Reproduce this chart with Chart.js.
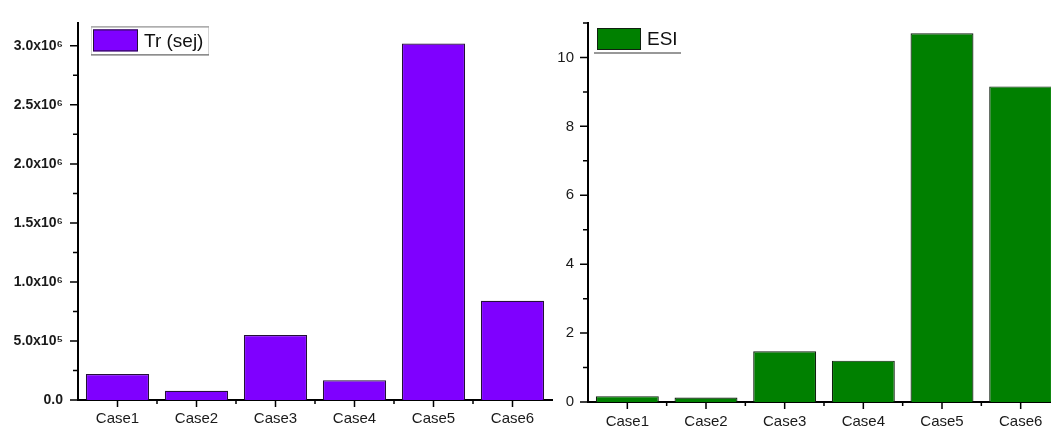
<!DOCTYPE html>
<html>
<head>
<meta charset="utf-8">
<script src="https://cdn.jsdelivr.net/npm/chart.js@4.4.1/dist/chart.umd.min.js"></script>
<style>
  html, body { margin: 0; padding: 0; background: #fff; width: 1051px; height: 428px; overflow: hidden; position: relative; }
  canvas { position: absolute; top: 0; }
  #trChart { left: 0; }
  #esiChart { left: 540px; }
</style>
</head>
<body>
<canvas id="trChart" width="560" height="428"></canvas>
<canvas id="esiChart" width="530" height="428"></canvas>
<script>
// Categories and values
const cases = ['Case1', 'Case2', 'Case3', 'Case4', 'Case5', 'Case6'];
const trValues = [2.2e5, 7.8e4, 5.5e5, 1.67e5, 3.02e6, 8.4e5];
const esiValues = [0.17, 0.13, 1.47, 1.2, 10.7, 9.16];

// Tick values and labels
const trTicks = [0, 5e5, 1e6, 1.5e6, 2e6, 2.5e6, 3e6];
const trTickLabels = ['0.0', '5.0x10⁵', '1.0x10⁶', '1.5x10⁶', '2.0x10⁶', '2.5x10⁶', '3.0x10⁶'];
const esiTicks = [0, 2, 4, 6, 8, 10];
const esiTickLabels = ['0', '2', '4', '6', '8', '10'];

const FONT = '"Liberation Sans", Arial, sans-serif';

// Major and minor tick marks on both axes
const tickMarks = {
  id: 'tickMarks',
  afterDraw(chart) {
    const ctx = chart.ctx;
    const xs = chart.scales.x, ys = chart.scales.y;
    const a = chart.chartArea;
    ctx.save();
    ctx.strokeStyle = '#000';
    ctx.lineWidth = 1.5;
    ctx.beginPath();
    const vals = ys.ticks.map(t => t.value);
    const step = vals[1] - vals[0];
    vals.forEach(v => {
      const py = ys.getPixelForValue(v);
      ctx.moveTo(a.left, py); ctx.lineTo(a.left - 8, py);
    });
    for (let i = 0; i < vals.length; i++) {
      const m = vals[i] + step / 2;
      if (m > ys.max + 1e-9) break;
      const py = ys.getPixelForValue(m);
      ctx.moveTo(a.left, py); ctx.lineTo(a.left - 5, py);
    }
    const n = chart.data.labels.length;
    for (let i = 0; i < n; i++) {
      const px = xs.getPixelForValue(i);
      ctx.moveTo(px, a.bottom); ctx.lineTo(px, a.bottom + 7);
      if (i < n - 1) {
        const bx = (px + xs.getPixelForValue(i + 1)) / 2;
        ctx.moveTo(bx, a.bottom - 1); ctx.lineTo(bx, a.bottom + 4);
      }
    }
    ctx.stroke();
    ctx.restore();
  }
};

// Key box with swatch and series name inside the plot
const keyBox = {
  id: 'keyBox',
  afterDraw(chart, args, o) {
    const ds = chart.data.datasets[0];
    const a = chart.chartArea;
    const ctx = chart.ctx;
    ctx.save();
    if (o.frame) {
      const f = o.frame;
      const fx = a.left + f.dx, fy = a.top + f.dy;
      ctx.lineWidth = 1;
      ctx.strokeStyle = '#d4d4d4';
      ctx.strokeRect(fx + 0.5, fy + 0.5, f.w, f.h);
      ctx.strokeStyle = '#8a8a8a';
      ctx.beginPath(); ctx.moveTo(fx, fy + 0.5); ctx.lineTo(fx + f.w + 1, fy + 0.5); ctx.stroke();
      ctx.strokeStyle = '#555';
      ctx.beginPath(); ctx.moveTo(fx, fy + f.h + 0.5); ctx.lineTo(fx + f.w + 1, fy + f.h + 0.5); ctx.stroke();
    }
    if (o.underline) {
      const u = o.underline;
      ctx.strokeStyle = '#333';
      ctx.lineWidth = 1.2;
      ctx.beginPath();
      ctx.moveTo(a.left + u.dx, a.top + u.dy);
      ctx.lineTo(a.left + u.dx + u.w, a.top + u.dy);
      ctx.stroke();
    }
    const bx = a.left + o.dx, by = a.top + o.dy;
    ctx.fillStyle = ds.backgroundColor;
    ctx.fillRect(bx, by, o.w, o.h);
    ctx.strokeStyle = ds.borderColor;
    ctx.lineWidth = 1;
    ctx.strokeRect(bx + 0.5, by + 0.5, o.w - 1, o.h - 1);
    ctx.font = '19px ' + FONT;
    ctx.fillStyle = '#111';
    ctx.textBaseline = 'middle';
    ctx.textAlign = 'left';
    ctx.fillText(ds.label, bx + o.w + 6, by + o.h / 2 + 1);
    ctx.restore();
  }
};

function makeChart(id, label, values, color, edge, yMax, tickVals, tickLabels, cfg) {
  return new Chart(document.getElementById(id), {
    type: 'bar',
    data: {
      labels: cases,
      datasets: [{
        label: label,
        data: values,
        backgroundColor: color,
        borderColor: edge,
        borderWidth: 1.2,
        barPercentage: 0.8,
        categoryPercentage: 1.0
      }]
    },
    options: {
      responsive: false,
      animation: false,
      layout: { padding: cfg.padding },
      plugins: {
        legend: { display: false },
        tooltip: { enabled: false },
        keyBox: cfg.key
      },
      scales: {
        x: {
          grid: { display: false, drawTicks: false },
          border: { display: true, color: '#000', width: 2 },
          ticks: { color: '#1a1a1a', font: { family: FONT, size: 15 }, padding: cfg.xPad },
          afterFit: s => { s.height = cfg.xHeight; }
        },
        y: {
          min: 0,
          max: yMax,
          grid: { display: false, drawTicks: false },
          border: { display: true, color: '#000', width: 2 },
          afterBuildTicks: s => { s.ticks = tickVals.map(v => ({ value: v })); },
          ticks: {
            color: '#1a1a1a',
            font: cfg.yFont,
            padding: cfg.yPad,
            callback: (v, i) => tickLabels[i]
          },
          afterFit: s => { s.width = cfg.yWidth; }
        }
      }
    },
    plugins: [tickMarks, keyBox]
  });
}

makeChart('trChart', 'Tr (sej)', trValues, '#7f00ff', '#241038', 3.19e6, trTicks, trTickLabels, {
  padding: { top: 17, right: 8, bottom: 0, left: 0 },
  yWidth: 78, xHeight: 28, xPad: 10, yPad: 15,
  yFont: { family: FONT, size: 14, weight: 'bold' },
  key: { dx: 15, dy: 6, w: 45, h: 22, frame: { dx: 13, dy: 3, w: 117, h: 28 } }
});

makeChart('esiChart', 'ESI', esiValues, '#008000', '#102010', 11, esiTicks, esiTickLabels, {
  padding: { top: 23, right: 10, bottom: 0, left: 0 },
  yWidth: 48, xHeight: 26, xPad: 11, yPad: 14,
  yFont: { family: FONT, size: 15 },
  key: { dx: 9, dy: 5, w: 44, h: 22, underline: { dx: 6, dy: 30, w: 87 } }
});
</script>
</body>
</html>
